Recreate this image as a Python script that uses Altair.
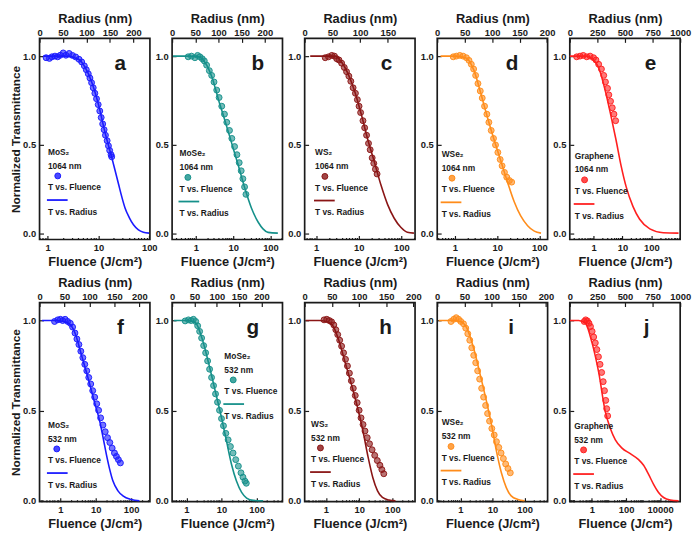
import altair as alt
import pandas as pd

# ---------------- data ----------------
# points: T vs. Fluence (J/cm^2); lines: T vs. Radius (nm)
a_fluence = [0.93, 1.08, 1.21, 1.39, 1.57, 1.77, 2.02, 2.28, 2.64, 3.07, 3.56, 4.14, 4.67, 5.26, 5.75, 6.29,
             6.78, 7.31, 7.87, 8.48, 9.14, 9.86, 10.6, 11.3, 12.1, 12.9, 13.7, 14.8, 15.7, 16.6, 17.7, 18.2]
a_T = [0.991, 0.987, 0.996, 1.0, 0.996, 1.005, 1.018, 1.005, 1.015, 1.004, 0.995, 0.982, 0.967, 0.945, 0.923, 0.9,
       0.876, 0.85, 0.821, 0.79, 0.759, 0.726, 0.69, 0.653, 0.617, 0.584, 0.553, 0.522, 0.493, 0.467, 0.443, 0.431]
a_radius = [8, 33, 55, 83, 97, 111, 125.5, 140, 154, 161, 168, 175, 182, 191, 200, 210.6, 221, 233]
a_T_line = [1.0, 1.0, 1.0, 0.982, 0.936, 0.854, 0.726, 0.562, 0.425, 0.352, 0.279, 0.206, 0.142, 0.088, 0.047, 0.018, 0.005, 0.0]

b_fluence = [0.62, 0.76, 0.94, 1.11, 1.28, 1.48, 1.68, 1.94, 2.29, 2.65, 3.06, 3.62, 4.19, 4.94, 5.83, 6.74, 7.96,
             9.2, 10.9, 12.6, 14.5, 16.4, 18.2, 20.2, 22.0]
b_T = [0.996, 1.0, 0.991, 1.004, 0.996, 0.985, 0.973, 0.949, 0.918, 0.891, 0.854, 0.808, 0.766, 0.717, 0.672, 0.626,
       0.58, 0.535, 0.489, 0.443, 0.398, 0.352, 0.307, 0.261, 0.219]
b_radius = [2, 35.7, 57, 71, 86, 100, 114, 128.6, 143, 157, 171, 186, 196, 207, 228]
b_T_line = [1.0, 1.0, 0.996, 0.964, 0.881, 0.754, 0.635, 0.507, 0.38, 0.252, 0.142, 0.06, 0.024, 0.004, 0.0]

c_fluence = [1.64, 1.96, 2.34, 2.7, 3.05, 3.45, 3.98, 4.59, 5.19, 5.88, 6.54, 7.39, 8.38, 9.31, 10.2, 11.1, 12.6,
             13.8, 15.3, 17.0, 18.6, 20.7, 22.6, 24.7, 27.0]
c_T = [0.991, 0.996, 1.004, 1.0, 0.985, 0.978, 0.96, 0.936, 0.912, 0.887, 0.858, 0.821, 0.79, 0.754, 0.717, 0.681,
       0.635, 0.595, 0.553, 0.507, 0.471, 0.425, 0.394, 0.361, 0.334]
c_radius = [10, 36.8, 54.6, 66.5, 78.3, 90, 102, 114, 126, 137.7, 149.6, 161.4, 173.3, 185, 197]
c_T_line = [1.0, 1.0, 1.0, 0.967, 0.9, 0.803, 0.672, 0.526, 0.398, 0.27, 0.161, 0.084, 0.033, 0.005, 0.0]

d_fluence = [0.91, 1.08, 1.3, 1.56, 1.87, 2.15, 2.44, 2.77, 3.09, 3.51, 3.98, 4.43, 5.03, 5.71, 6.37, 7.23, 8.2,
             9.14, 10.4, 11.8, 13.1, 14.9, 16.9, 19.5, 22.1]
d_T = [0.996, 1.0, 1.004, 1.0, 0.991, 0.976, 0.954, 0.927, 0.891, 0.845, 0.803, 0.763, 0.717, 0.672, 0.626, 0.58,
       0.535, 0.498, 0.456, 0.416, 0.38, 0.343, 0.316, 0.297, 0.288]
d_radius = [6, 30.5, 51.8, 67, 79.3, 91.5, 103.7, 115.9, 128, 140, 152, 164.6, 176.8, 189]
d_T_line = [1.0, 1.0, 0.991, 0.918, 0.79, 0.653, 0.526, 0.407, 0.288, 0.179, 0.097, 0.042, 0.011, 0.0]

e_fluence = [0.26, 0.34, 0.44, 0.58, 0.76, 1.0, 1.21, 1.5, 1.87, 2.25, 2.58, 3.04, 3.38, 3.87, 4.44, 5.08, 5.82]
e_T = [0.996, 1.0, 1.004, 0.996, 1.0, 0.991, 0.978, 0.954, 0.927, 0.891, 0.854, 0.818, 0.781, 0.745, 0.708, 0.672, 0.635]
e_radius = [0, 144, 205, 266, 327, 373, 419, 465, 511, 572, 633, 725, 847, 985]
e_T_line = [1.0, 1.0, 0.985, 0.927, 0.79, 0.662, 0.526, 0.38, 0.261, 0.151, 0.078, 0.024, 0.002, 0.0]

f_fluence = [0.69, 0.85, 1.01, 1.17, 1.37, 1.62, 1.92, 2.23, 2.6, 2.95, 3.36, 3.81, 4.34, 4.93, 5.61, 6.38, 7.25,
             8.24, 9.38, 10.7, 12.1, 13.8, 16.0, 18.6, 21.6, 25.1, 29.2, 33.9, 38.5, 43.8, 49.9]
f_T = [0.995, 1.004, 1.007, 1.0, 1.007, 0.995, 0.985, 0.964, 0.931, 0.898, 0.867, 0.83, 0.794, 0.757, 0.721, 0.684,
       0.648, 0.611, 0.575, 0.538, 0.502, 0.46, 0.42, 0.383, 0.35, 0.323, 0.292, 0.265, 0.246, 0.228, 0.21]
f_radius = [5, 35, 58, 71, 84.5, 97.7, 110.9, 120.8, 127.5, 134, 140.6, 147, 157, 167, 183.5, 200]
f_T_line = [1.0, 1.0, 0.985, 0.931, 0.803, 0.675, 0.538, 0.438, 0.347, 0.255, 0.173, 0.109, 0.055, 0.027, 0.007, 0.0]

g_fluence = [0.92, 1.14, 1.36, 1.58, 1.84, 2.09, 2.38, 2.71, 3.1, 3.53, 4.02, 4.58, 5.21, 5.94, 6.76, 7.71, 8.78,
             10.0, 11.4, 13.3, 15.5, 18.0, 21.4, 25.5, 30.3, 36.0, 41.0, 46.7, 51.0]
g_T = [0.998, 1.004, 1.0, 1.007, 0.995, 0.971, 0.94, 0.903, 0.861, 0.821, 0.776, 0.73, 0.684, 0.639, 0.593, 0.547,
       0.502, 0.456, 0.416, 0.374, 0.338, 0.301, 0.265, 0.228, 0.192, 0.155, 0.131, 0.109, 0.097]
g_radius = [4, 33, 51.9, 66.7, 81.5, 96.3, 111, 122, 133, 144, 155.6, 166.7, 181.5, 203.7]
g_T_line = [1.0, 1.0, 0.989, 0.903, 0.766, 0.611, 0.456, 0.328, 0.201, 0.109, 0.046, 0.015, 0.002, 0.0]

h_fluence = [0.88, 1.06, 1.27, 1.48, 1.73, 1.99, 2.27, 2.6, 2.97, 3.4, 3.89, 4.45, 5.09, 5.83, 6.67, 7.64, 8.74,
             10.0, 11.4, 13.1, 15.0, 17.5, 20.5, 24.5, 29.4, 35.2, 42.1, 48.2, 55.1]
h_T = [1.004, 1.007, 1.0, 0.993, 0.976, 0.949, 0.922, 0.891, 0.858, 0.821, 0.785, 0.748, 0.708, 0.666, 0.624, 0.584,
       0.544, 0.502, 0.46, 0.423, 0.387, 0.35, 0.316, 0.283, 0.252, 0.223, 0.197, 0.173, 0.15]
h_radius = [2, 26.9, 38.8, 50.7, 62.7, 74.6, 86.6, 98.5, 107.5, 116.4, 125.4, 134, 143, 155, 167]
h_T_line = [1.0, 1.0, 0.995, 0.976, 0.891, 0.766, 0.639, 0.502, 0.383, 0.246, 0.128, 0.055, 0.018, 0.004, 0.0]

i_fluence = [0.51, 0.62, 0.74, 0.88, 1.03, 1.25, 1.47, 1.7, 1.96, 2.26, 2.6, 3.0, 3.45, 3.98, 4.59, 5.29, 6.1,
             7.02, 8.09, 9.53, 11.3, 13.3, 15.7, 18.5, 21.8, 25.7, 30.3, 35.8]
i_T = [0.995, 1.007, 1.016, 1.007, 0.995, 0.982, 0.958, 0.927, 0.891, 0.849, 0.807, 0.766, 0.721, 0.675, 0.624,
       0.575, 0.529, 0.484, 0.442, 0.401, 0.365, 0.328, 0.296, 0.265, 0.234, 0.204, 0.179, 0.155]
i_radius = [3, 27, 42.4, 54.5, 66.7, 78.8, 90.9, 100, 109, 118, 127, 136, 148.5, 160.6]
i_T_line = [1.0, 1.0, 0.995, 0.958, 0.849, 0.703, 0.547, 0.42, 0.274, 0.155, 0.073, 0.027, 0.007, 0.0]

j_fluence = [0.35, 0.43, 0.54, 0.67, 0.82, 1.02, 1.26, 1.57, 1.94, 2.4, 2.98, 3.69, 4.57, 5.43, 6.44, 7.33, 8.34]
j_T = [0.995, 1.004, 0.998, 0.985, 0.967, 0.94, 0.909, 0.876, 0.839, 0.799, 0.757, 0.712, 0.661, 0.611, 0.557, 0.511, 0.471]
j_radius = [0, 81, 141.6, 201.8, 262, 322, 367.5, 412.7, 472.9, 548, 623.5, 668.7, 714, 759, 804, 849.4, 909.6, 985]
j_T_line = [1.0, 1.0, 0.985, 0.876, 0.712, 0.493, 0.401, 0.338, 0.292, 0.261, 0.228, 0.197, 0.146, 0.091, 0.046, 0.018, 0.004, 0.0]

letters = ["a", "b", "c", "d", "e", "f", "g", "h", "i", "j"]
materials = ["MoS₂", "MoSe₂", "WS₂", "WSe₂", "Graphene"] * 2
wavelengths = ["1064 nm"] * 5 + ["532 nm"] * 5
fluences = [a_fluence, b_fluence, c_fluence, d_fluence, e_fluence, f_fluence, g_fluence, h_fluence, i_fluence, j_fluence]
T_points = [a_T, b_T, c_T, d_T, e_T, f_T, g_T, h_T, i_T, j_T]
radii = [a_radius, b_radius, c_radius, d_radius, e_radius, f_radius, g_radius, h_radius, i_radius, j_radius]
T_lines = [a_T_line, b_T_line, c_T_line, d_T_line, e_T_line, f_T_line, g_T_line, h_T_line, i_T_line, j_T_line]

fluence_domains = [[0.69, 103], [0.23, 210], [0.54, 210], [0.38, 157], [0.15, 1000],
                   [0.26, 340], [0.39, 550], [0.23, 480], [0.19, 520], [0.05, 150000]]
fluence_ticks = [[1, 10, 100]] * 9 + [[1, 100, 10000]]
radius_domains = [[0, 235], [0, 238], [0, 199], [0, 201], [0, 1000],
                  [0, 221], [0, 247], [0, 203], [0, 203], [0, 1000]]
radius_ticks = [[0, 50, 100, 150, 200]] * 4 + [[0, 250, 500, 750, 1000]] + \
               [[0, 50, 100, 150, 200]] * 4 + [[0, 250, 500, 750, 1000]]

# ---------------- styles ----------------
COLORS = ["#1a1aff", "#15908a", "#8a1515", "#ff8c1a", "#ff1f1f"] * 2
FONT = "Liberation Sans"
INK = "#1a1a1a"
W = 112
HEIGHTS = [204, 202]
YDOMS = [[-0.036, 1.1], [-0.005, 1.1]]
# legend: text-left offset, name baseline y (px from plot top), dot x
LEG = [(8.5, 115, 18.5), (7.5, 116.5, 16), (10.5, 115.5, 20.5), (4.5, 117.3, 15), (5, 119, 15),
       (8.5, 124, 17.5), (53, 54, 62), (6.5, 123, 16), (4.5, 121.5, 14), (4.5, 125, 14)]
LEG_DY = [0, 14, 24.5, 36, 49, 61]
LETTER_X = [82, 87, 83, 76, 82, 82, 82, 82, 75, 78]


def minor_ticks(dom):
    vals = []
    for k in range(-3, 7):
        for m in range(2, 10):
            v = m * 10.0 ** k
            if dom[0] <= v <= dom[1]:
                vals.append(v)
    return vals


def txt(x, y, s, size=8.5, weight="bold", align="left", baseline="middle"):
    return alt.Chart(alt.Data(values=[{}])).mark_text(
        text=s, font=FONT, fontSize=size, fontWeight=weight, color=INK,
        align=align, baseline=baseline
    ).encode(x=alt.value(x), y=alt.value(y))


def panel(i):
    row = 0 if i < 5 else 1
    H = HEIGHTS[row]
    col = COLORS[i]
    pts = pd.DataFrame({"F": fluences[i], "T": T_points[i]})
    ln = pd.DataFrame({"R": radii[i], "T": T_lines[i]})

    yaxis_kw = dict(values=[0, 0.5, 1.0], format=".1f", offset=-4, tickSize=4, labelPadding=4,
                    domain=False, grid=False, titleFontSize=12, titlePadding=0)
    if i % 5 == 0:
        yaxis_kw["title"] = "Normalized Transmittance"
    else:
        yaxis_kw["title"] = None
    yenc = alt.Y("T:Q", scale=alt.Scale(domain=YDOMS[row], nice=False, zero=False), axis=alt.Axis(**yaxis_kw))

    fscale = alt.Scale(type="log", domain=fluence_domains[i], nice=False)

    line = alt.Chart(ln).mark_line(color=col, strokeWidth=1.6, interpolate="monotone").encode(
        x=alt.X("R:Q", scale=alt.Scale(domain=radius_domains[i], nice=False, zero=False),
                axis=alt.Axis(orient="top", values=radius_ticks[i], format="d", title="Radius (nm)",
                              offset=-4, tickSize=4, labelPadding=1, titlePadding=2, domain=False, grid=False,
                              labelFlush=False, labelOverlap=False)),
        y=yenc,
    )
    points = alt.Chart(pts).mark_circle(size=36, fill=col, fillOpacity=0.6, stroke=col,
                                        strokeWidth=1, strokeOpacity=0.95).encode(
        x=alt.X("F:Q", scale=fscale,
                axis=alt.Axis(orient="bottom", values=fluence_ticks[i], format="d", title="Fluence (J/cm²)",
                              offset=-4, tickSize=4, labelPadding=3, titlePadding=4, domain=False, grid=False,
                              labelFlush=False, labelOverlap=False)),
        y=yenc,
    )
    minor = alt.Chart(pts).mark_point(opacity=0).encode(
        x=alt.X("F:Q", scale=fscale,
                axis=alt.Axis(orient="bottom", values=minor_ticks(fluence_domains[i]), labels=False,
                              title=None, offset=-2, tickSize=2, domain=False, grid=False)),
    )

    lx, ly, dx = LEG[i]
    ys = [ly + d for d in LEG_DY]
    legend = [
        txt(lx, ys[0], materials[i]),
        txt(lx, ys[1], wavelengths[i]),
        alt.Chart(alt.Data(values=[{}])).mark_circle(size=36, fill=col, fillOpacity=0.8, stroke=col,
                                                    strokeWidth=1).encode(x=alt.value(dx), y=alt.value(ys[2])),
        txt(lx, ys[3], "T vs. Fluence"),
        alt.Chart(alt.Data(values=[{}])).mark_rule(color=col, strokeWidth=1.8).encode(
            x=alt.value(lx - 1), x2=alt.value(lx + 20), y=alt.value(ys[4])),
        txt(lx, ys[5], "T vs. Radius"),
        txt(LETTER_X[i], 32, letters[i], size=21, align="center", baseline="alphabetic"),
    ]
    return alt.layer(line, points, minor, *legend).resolve_scale(x="independent").properties(width=W, height=H)


panels = [panel(i) for i in range(10)]

chart = alt.concat(*panels, columns=5, spacing={"row": 64, "column": 22.5}, bounds="flush").properties(
    padding=0
).configure_view(
    stroke=INK, strokeWidth=1.7
).configure_axis(
    labelFont=FONT, labelFontSize=9.5, labelFontWeight="bold", labelColor=INK,
    titleFont=FONT, titleFontSize=13, titleFontWeight="bold", titleColor=INK,
    tickColor=INK, tickWidth=1.2
)

chart.save("out.html", embed_options={"renderer": "svg", "actions": False})
